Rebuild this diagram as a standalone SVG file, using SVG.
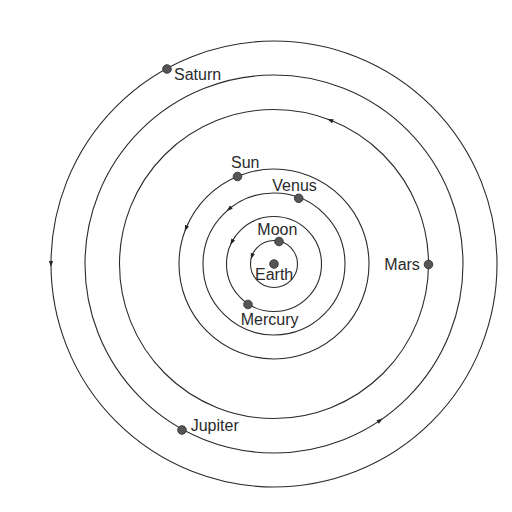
<svg xmlns="http://www.w3.org/2000/svg" xmlns:xlink="http://www.w3.org/1999/xlink" width="512" height="512" viewBox="0 0 512 512">
  <style>
    .orbit { fill: none; stroke: #2b2b2b; stroke-width: 1.1; }
    .arrow { fill: #222; }
    .body { fill: #555; stroke: #333; stroke-width: 0.9; }
    .label { font-family: "Liberation Sans", Arial, sans-serif; font-size: 16px; fill: #2a2a2a; }
  </style>
  <defs>
    <path id="ah" d="M3,0 L-3,-2.1 L-3,2.1 Z"/>
  </defs>
  <rect width="512" height="512" fill="#ffffff"/>
  <g id="orbits">
    <circle class="orbit" cx="274" cy="264" r="23.5"/>
    <circle class="orbit" cx="274" cy="264" r="47.5"/>
    <circle class="orbit" cx="274" cy="264" r="71"/>
    <circle class="orbit" cx="274" cy="264" r="95"/>
    <circle class="orbit" cx="274" cy="264" r="154.5"/>
    <circle class="orbit" cx="274" cy="264" r="189"/>
    <circle class="orbit" cx="274" cy="264" r="223"/>
    <use class="arrow" xlink:href="#ah" href="#ah" transform="translate(51,264) rotate(90)"/>
    <use class="arrow" xlink:href="#ah" href="#ah" transform="translate(380.2,420.3) rotate(-34.2)"/>
    <use class="arrow" xlink:href="#ah" href="#ah" transform="translate(330.1,120.1) rotate(-158.7)"/>
    <use class="arrow" xlink:href="#ah" href="#ah" transform="translate(185.9,228.4) rotate(112)"/>
    <use class="arrow" xlink:href="#ah" href="#ah" transform="translate(229,209.1) rotate(140.7)"/>
    <use class="arrow" xlink:href="#ah" href="#ah" transform="translate(231.8,242.1) rotate(117.4)"/>
    <use class="arrow" xlink:href="#ah" href="#ah" transform="translate(251.8,256.3) rotate(109)"/>
  </g>
  <g id="earth">
    <circle class="body" cx="274" cy="264" r="4.3"/>
    <text class="label" x="255" y="280">Earth</text>
  </g>
  <g id="moon">
    <circle class="body" cx="279" cy="241.5" r="4.3"/>
    <text class="label" x="257.3" y="235">Moon</text>
  </g>
  <g id="mercury">
    <circle class="body" cx="248" cy="304.5" r="4.3"/>
    <text class="label" x="240.7" y="325">Mercury</text>
  </g>
  <g id="venus">
    <circle class="body" cx="298.7" cy="198.3" r="4.3"/>
    <text class="label" x="272.3" y="191">Venus</text>
  </g>
  <g id="sun">
    <circle class="body" cx="237.5" cy="176.5" r="4.3"/>
    <text class="label" x="231" y="168.3">Sun</text>
  </g>
  <g id="mars">
    <circle class="body" cx="428.5" cy="264.5" r="4.3"/>
    <text class="label" x="384.3" y="270">Mars</text>
  </g>
  <g id="jupiter">
    <circle class="body" cx="182" cy="430" r="4.3"/>
    <text class="label" x="190.7" y="431">Jupiter</text>
  </g>
  <g id="saturn">
    <circle class="body" cx="167" cy="69" r="4.3"/>
    <text class="label" x="174" y="80">Saturn</text>
  </g>
</svg>
